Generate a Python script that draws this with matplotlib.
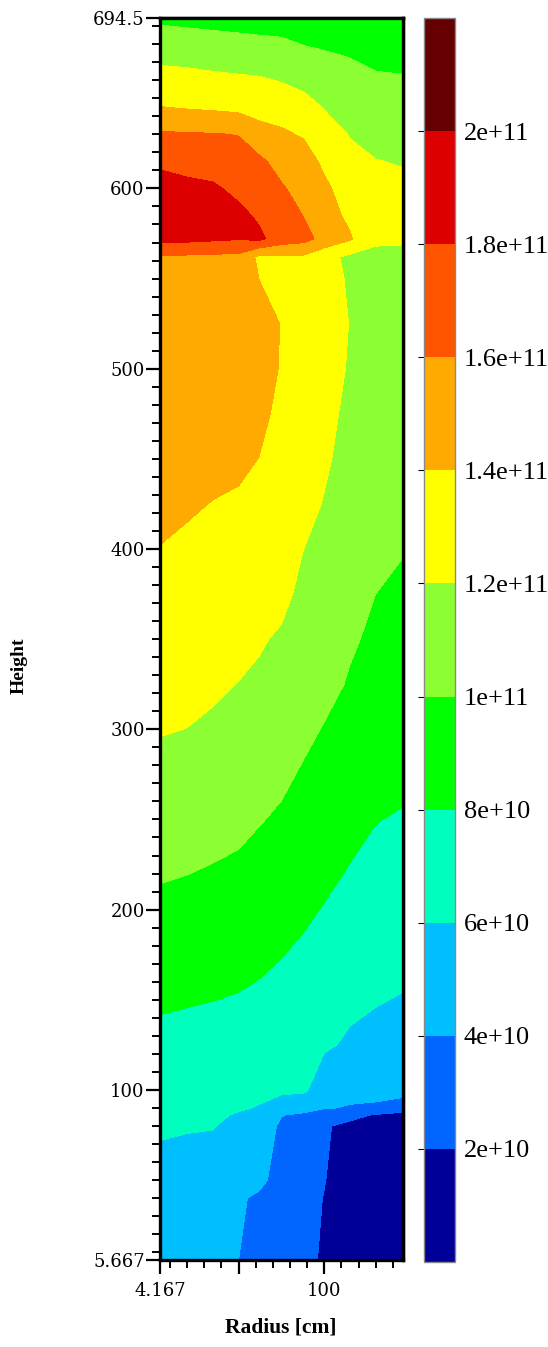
import matplotlib
matplotlib.use("Agg")
import matplotlib.pyplot as plt
import numpy as np
from matplotlib.colors import ListedColormap, BoundaryNorm
from matplotlib.ticker import MultipleLocator, FixedLocator

# grid nodes (cm)
radius = [4.167, 20, 35, 50, 62, 75, 88, 100, 115, 130, 145.8]
height = [5.667, 40, 50, 80, 86, 90, 100, 125, 150, 175, 200, 225, 250, 275, 300,
          325, 350, 375, 400, 425, 450, 475, 500, 525, 550, 562, 572, 585,
          600, 615, 630, 645, 660, 675, 694.5]

# field values in units of 1e10, one row per height
field = [
    [5.0, 4.9, 4.8, 4.0, 3.5, 3.0, 2.4, 1.8, 1.0, 0.8, 0.7],
    [5.45, 5.35, 5.25, 4.15, 3.8, 3.25, 2.5, 1.95, 1.2, 0.9, 0.8],
    [5.6, 5.5, 5.4, 4.4, 4.3, 3.5, 2.6, 2.05, 1.25, 0.95, 0.85],
    [6.15, 6.08, 6.05, 5.7, 4.7, 3.8, 3.0, 2.2, 1.5, 1.2, 1.1],
    [6.3, 6.22, 6.18, 5.9, 5.3, 4.05, 3.7, 3.2, 2.6, 1.8, 1.6],
    [6.4, 6.35, 6.3, 6.1, 5.95, 5.2, 4.6, 4.1, 3.9, 3.7, 2.6],
    [6.7, 6.6, 6.55, 6.4, 6.2, 6.3, 6.3, 4.85, 4.4, 4.6, 5.0],
    [7.4, 7.3, 7.25, 7.0, 6.9, 6.7, 6.55, 6.25, 5.75, 5.5, 5.3],
    [8.3, 8.15, 8.02, 7.9, 7.7, 7.45, 7.1, 6.8, 6.35, 6.1, 5.9],
    [9.0, 8.8, 8.65, 8.5, 8.35, 8.05, 7.7, 7.4, 6.95, 6.6, 6.5],
    [9.6, 9.5, 9.3, 9.1, 8.9, 8.6, 8.3, 7.9, 7.5, 7.1, 7.0],
    [10.3, 10.15, 9.98, 9.8, 9.45, 9.2, 8.75, 8.5, 7.98, 7.6, 7.4],
    [10.9, 10.8, 10.55, 10.4, 10.1, 9.75, 9.3, 9.0, 8.6, 8.05, 7.85],
    [11.5, 11.35, 11.15, 10.9, 10.6, 10.35, 9.8, 9.45, 9.1, 8.55, 8.4],
    [12.1, 11.98, 11.75, 11.45, 11.2, 10.9, 10.4, 9.9, 9.5, 9.0, 8.85],
    [12.5, 12.45, 12.25, 11.97, 11.75, 11.35, 10.85, 10.5, 9.85, 9.35, 9.2],
    [12.9, 12.8, 12.6, 12.4, 12.15, 11.8, 11.25, 10.95, 10.2, 9.7, 9.5],
    [13.4, 13.25, 13.05, 12.85, 12.7, 12.4, 11.6, 11.3, 10.55, 10.0, 9.8],
    [13.95, 13.7, 13.5, 13.3, 13.15, 12.9, 12.0, 11.6, 10.9, 10.3, 10.05],
    [14.5, 14.2, 13.95, 13.8, 13.6, 13.3, 12.6, 11.9, 11.15, 10.6, 10.4],
    [15.0, 14.7, 14.5, 14.3, 13.98, 13.5, 12.95, 12.25, 11.4, 10.85, 10.7],
    [15.3, 15.1, 15.0, 14.8, 14.3, 13.7, 13.2, 12.5, 11.6, 11.1, 10.95],
    [15.5, 15.3, 15.2, 15.1, 14.6, 13.9, 13.4, 12.7, 11.85, 11.3, 11.2],
    [15.6, 15.5, 15.4, 15.3, 14.6, 13.95, 13.5, 12.85, 11.95, 11.5, 11.4],
    [15.7, 15.6, 15.5, 15.4, 13.98, 13.85, 13.6, 13.0, 11.7, 11.6, 11.55],
    [15.8, 15.7, 15.6, 15.5, 13.6, 13.8, 13.7, 12.6, 11.6, 11.7, 11.7],
    [18.6, 18.5, 18.3, 18.1, 18.4, 17.0, 16.6, 15.4, 14.2, 12.2, 12.15],
    [19.5, 19.3, 19.0, 18.5, 17.7, 16.9, 15.95, 14.8, 13.6, 12.5, 12.45],
    [19.0, 18.5, 18.3, 17.5, 17.0, 16.2, 15.3, 14.4, 13.0, 12.4, 12.35],
    [17.56, 17.3, 17.05, 16.7, 16.4, 15.3, 14.9, 13.6, 12.5, 12.05, 11.9],
    [16.25, 16.15, 16.1, 15.95, 14.7, 14.3, 13.8, 12.9, 11.9, 11.5, 11.4],
    [14.05, 13.85, 13.7, 13.5, 13.3, 13.1, 12.9, 11.9, 11.3, 11.0, 10.9],
    [12.74, 12.6, 12.45, 12.3, 12.2, 11.9, 11.3, 11.2, 10.7, 10.3, 10.2],
    [11.4, 11.3, 11.1, 10.95, 10.85, 10.75, 10.3, 10.1, 9.85, 9.4, 9.3],
    [9.65, 9.5, 9.4, 9.3, 9.2, 9.1, 8.95, 8.8, 8.6, 8.4, 8.3],
]

levels = [0, 2e10, 4e10, 6e10, 8e10, 1e11, 1.2e11, 1.4e11, 1.6e11, 1.8e11, 2e11, 2.2e11]
band_colors = ['#000099', '#0066ff', '#00bfff', '#00ffbf', '#00ff00', '#8cff33',
               '#ffff00', '#ffaa00', '#ff5500', '#dd0000', '#660000']
cbar_ticks = [2e10, 4e10, 6e10, 8e10, 1e11, 1.2e11, 1.4e11, 1.6e11, 1.8e11, 2e11]
cbar_labels = ['2e+10', '4e+10', '6e+10', '8e+10', '1e+11', '1.2e+11',
               '1.4e+11', '1.6e+11', '1.8e+11', '2e+11']
yticks = [5.667, 100, 200, 300, 400, 500, 600, 694.5]
ytick_labels = ['5.667', '100', '200', '300', '400', '500', '600', '694.5']
xticks = [4.167, 50, 100]
xtick_labels = ['4.167', '', '100']

plt.rcParams['font.family'] = ['DejaVu Serif']

fig = plt.figure(figsize=(5.48, 13.47), dpi=100)
ax = fig.add_axes([0.292, 0.0646, 0.443, 0.922])

cmap = ListedColormap(band_colors)
norm = BoundaryNorm(levels, cmap.N)
Z = np.array(field) * 1e10
cf = ax.contourf(radius, height, Z, levels=levels, cmap=cmap, norm=norm)

ax.set_xlim(radius[0], radius[-1])
ax.set_ylim(height[0], height[-1])

ax.xaxis.set_major_locator(FixedLocator(xticks))
ax.set_xticklabels(xtick_labels)
ax.xaxis.set_minor_locator(MultipleLocator(10))
ax.yaxis.set_major_locator(FixedLocator(yticks))
ax.set_yticklabels(ytick_labels)
ax.yaxis.set_minor_locator(MultipleLocator(10))
ax.tick_params(which='major', direction='out', length=10, width=1.6, labelsize=13)
ax.tick_params(which='minor', direction='out', length=6, width=1.4)
ax.tick_params(axis='y', which='major', pad=1)
ax.tick_params(axis='x', which='major', pad=6)
for s in ax.spines.values():
    s.set_linewidth(2.4)

# mirrored ticks pointing inward on top and right
top = ax.secondary_xaxis('top')
top.xaxis.set_major_locator(FixedLocator([50, 100]))
top.xaxis.set_minor_locator(MultipleLocator(10))
top.tick_params(which='major', direction='in', length=9, width=1.6, labeltop=False)
top.tick_params(which='minor', direction='in', length=5, width=1.4)
top.spines['top'].set_linewidth(2.4)

right = ax.secondary_yaxis('right')
right.yaxis.set_major_locator(FixedLocator([100, 200, 300, 400, 500, 600]))
right.yaxis.set_minor_locator(MultipleLocator(10))
right.tick_params(which='major', direction='in', length=9, width=1.6, labelright=False)
right.tick_params(which='minor', direction='in', length=5, width=1.4)
right.spines['right'].set_linewidth(2.4)

fig.text(0.512, 0.0148, 'Radius [cm]', ha='center', va='center',
         fontsize=15.5, fontweight='bold', family=['Liberation Serif', 'DejaVu Serif'])
fig.text(0.035, 1 - 666 / 1347, 'Height', ha='center', va='center',
         rotation=90, fontsize=14, fontweight='bold',
         family=['Liberation Serif', 'DejaVu Serif'])

cax = fig.add_axes([0.774, 0.0631, 0.0566, 0.9235])
cbar = fig.colorbar(cf, cax=cax, ticks=cbar_ticks)
cbar.ax.set_yticklabels(cbar_labels)
cbar.ax.minorticks_off()
cbar.outline.set_edgecolor('#888888')
cbar.outline.set_linewidth(1.0)
cbar.ax.tick_params(left=True, right=False, labelleft=False, labelright=True,
                    length=4, width=0.8, pad=2)
for lbl in cbar.ax.get_yticklabels():
    lbl.set_fontfamily(['Liberation Serif', 'DejaVu Serif'])
    lbl.set_fontsize(19)

fig.savefig('out.png', dpi=100)
